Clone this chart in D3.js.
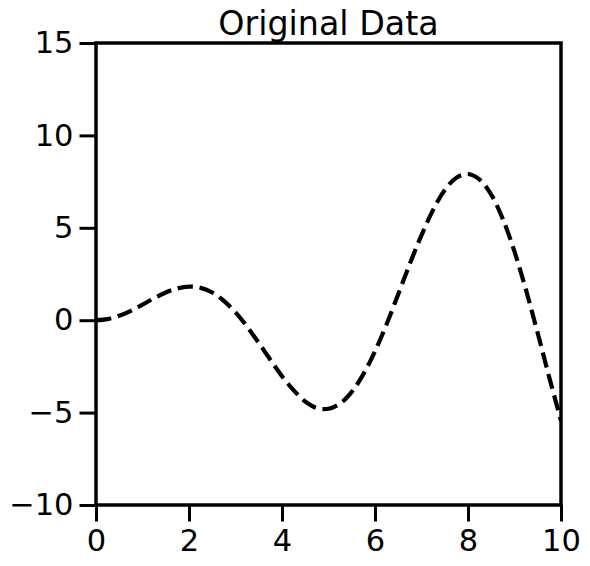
<!DOCTYPE html>
<html>
<head>
<meta charset="utf-8">
<script src="https://cdn.jsdelivr.net/npm/d3@7"></script>
<style>
  body { margin: 0; background: #fff; }
  svg text { font-family: "DejaVu Sans", sans-serif; fill: #000; }
</style>
</head>
<body>
<div id="chart"></div>
<script>
// values
const xValues = [0, 0.25, 0.5, 0.75, 1, 1.25, 1.5, 1.75, 2, 2.25, 2.5, 2.75, 3, 3.25, 3.5, 3.75,
  4, 4.25, 4.5, 4.75, 5, 5.25, 5.5, 5.75, 6, 6.25, 6.5, 6.75, 7, 7.25, 7.5, 7.75,
  8, 8.25, 8.5, 8.75, 9, 9.25, 9.5, 9.75, 10];
const yValues = [0, 0.06, 0.24, 0.51, 0.84, 1.19, 1.50, 1.72, 1.82, 1.75, 1.50, 1.05, 0.42, -0.35, -1.23, -2.14,
  -3.03, -3.79, -4.40, -4.75, -4.79, -4.51, -3.88, -2.92, -1.68, -0.21, 1.41, 3.06, 4.60, 5.97, 7.04, 7.71,
  7.91, 7.61, 6.79, 5.47, 3.71, 1.61, -0.71, -3.12, -5.44];
const xTicks = [0, 2, 4, 6, 8, 10];
const yTicks = [-10, -5, 0, 5, 10, 15];
const title = 'Original Data';

const config = {
  width: 590,
  height: 566,
  margin: {top: 43, right: 29, bottom: 61, left: 96}
};

const innerW = config.width - config.margin.left - config.margin.right;
const innerH = config.height - config.margin.top - config.margin.bottom;

const svg = d3.select('#chart').append('svg')
  .attr('width', config.width)
  .attr('height', config.height);

const g = svg.append('g')
  .attr('transform', `translate(${config.margin.left},${config.margin.top})`);

const xScale = d3.scaleLinear().domain([0, 10]).range([0, innerW]);
const yScale = d3.scaleLinear().domain([-10, 15]).range([innerH, 0]);

// clip so the line stops at the frame
g.append('clipPath').attr('id', 'clip')
  .append('rect').attr('width', innerW).attr('height', innerH);

const data = xValues.map((x, i) => [x, yValues[i]]);

const line = d3.line()
  .x(d => xScale(d[0]))
  .y(d => yScale(d[1]))
  .curve(d3.curveCatmullRom.alpha(0.5));

g.append('path')
  .datum(data)
  .attr('clip-path', 'url(#clip)')
  .attr('fill', 'none')
  .attr('stroke', '#000')
  .attr('stroke-width', 4.2)
  .attr('stroke-dasharray', '15.4,6.7')
  .attr('d', line);

const xAxis = d3.axisBottom(xScale).tickValues(xTicks).tickSize(16.5).tickPadding(8)
  .tickFormat(d3.format('d'));
const yAxis = d3.axisLeft(yScale).tickValues(yTicks).tickSize(16.5).tickPadding(6)
  .tickFormat(d => d < 0 ? '\u2212' + Math.abs(d) : d);

const xAxisG = g.append('g').attr('transform', `translate(0,${innerH})`).call(xAxis);
const yAxisG = g.append('g').call(yAxis);

[xAxisG, yAxisG].forEach(ax => {
  ax.select('.domain').remove();
  ax.attr('font-size', null).attr('font-family', null);
  ax.selectAll('.tick line').attr('stroke', '#000').attr('stroke-width', 3);
  ax.selectAll('.tick text').style('font-size', '30.5px');
});

// frame
g.append('rect')
  .attr('width', innerW)
  .attr('height', innerH)
  .attr('fill', 'none')
  .attr('stroke', '#000')
  .attr('stroke-width', 3.5);

svg.append('text')
  .attr('x', config.margin.left + innerW / 2)
  .attr('y', 35)
  .attr('text-anchor', 'middle')
  .style('font-size', '33.3px')
  .text(title);
</script>
</body>
</html>
